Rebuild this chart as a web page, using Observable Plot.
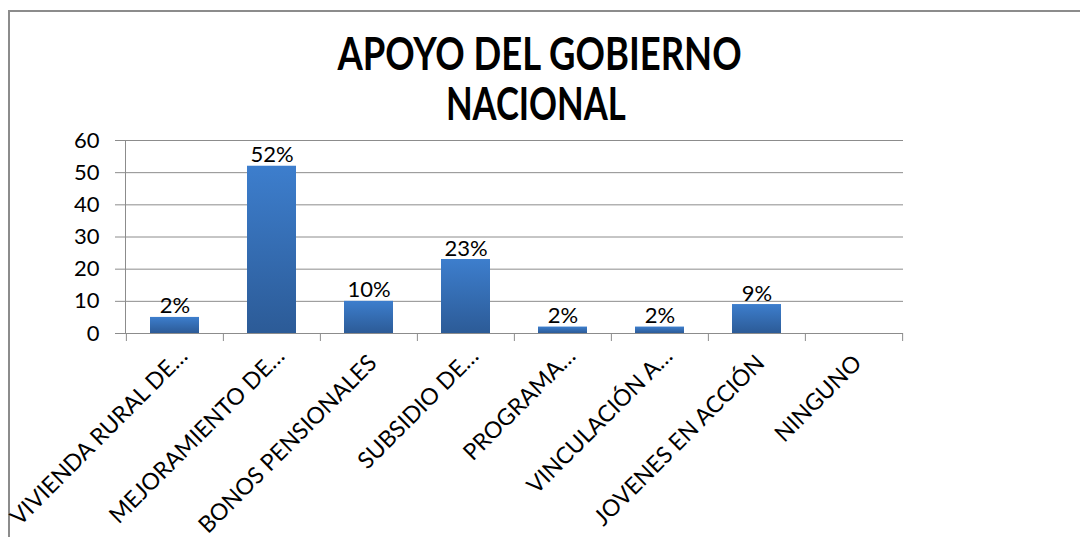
<!DOCTYPE html>
<html><head><meta charset="utf-8">
<script src="https://cdn.jsdelivr.net/npm/d3@7"></script>
<script src="https://cdn.jsdelivr.net/npm/@observablehq/plot@0.6"></script>
<style>
html,body{margin:0;padding:0;background:#fff;}
body{width:1080px;height:537px;overflow:hidden;position:relative;font-family:Lato,"Open Sans",sans-serif;}
#frame{position:absolute;left:8px;top:10px;width:1200px;height:700px;border-left:2px solid #8c8c8c;border-top:2px solid #8c8c8c;box-sizing:border-box}
#title{position:absolute;left:0;top:28px;width:1080px;text-align:center;font-weight:700;font-size:45px;line-height:50px;color:#000}
#title span{display:inline-block;transform-origin:center;}
#t1{transform:scaleX(0.81);}
#t2{transform:scaleX(0.77);margin-right:8px;}
#chart{position:absolute;left:0;top:130px;}
</style></head>
<body>
<div id="frame"></div>
<div id="title"><span id="t1">APOYO DEL GOBIERNO</span><br><span id="t2">NACIONAL</span></div>
<div id="chart"></div>
<script>
const categories = ["VIVIENDA RURAL DE…","MEJORAMIENTO DE…","BONOS PENSIONALES","SUBSIDIO DE…","PROGRAMA…","VINCULACIÓN A…","JOVENES EN ACCIÓN","NINGUNO"];
const values = [5, 52, 10, 23, 2, 2, 9, 0];
const valueLabels = ["2%","52%","10%","23%","2%","2%","9%",""];
const yTicks = [0,10,20,30,40,50,60];

const W=1080, H=407, ML=125, MR=177, MT=10, MB=204;
const step = (W-ML-MR)/categories.length;
const axisColor = "#8c8c8c";
const data = categories.map((c,i)=>({c, v: values[i], label: valueLabels[i]}));
const truncated = d => d.endsWith("…");

const chart = Plot.plot({
  width: W, height: H, marginLeft: ML, marginRight: MR, marginTop: MT, marginBottom: MB,
  style: {fontFamily: "Lato, 'Open Sans', sans-serif", background: "transparent", overflow: "visible", color: "#000"},
  x: {domain: categories, paddingInner: 0.5, paddingOuter: 0.25, axis: null},
  y: {domain: [0,60], axis: null},
  marks: [
    Plot.gridY(yTicks, {stroke: axisColor, strokeOpacity: 1}),
    Plot.axisY(yTicks, {tickSize: 10, tickPadding: 16, stroke: axisColor, fill: "#000", fontSize: 22, label: null}),
    Plot.barY(data, {x: "c", y: "v", fill: "url(#barGrad)", filter: d => d.v > 0}),
    Plot.ruleY([0], {stroke: axisColor}),
    Plot.frame({anchor: "left", stroke: axisColor}),
    Plot.axisX(categories, {tickSize: 8, fill: "none", dx: -step/2, stroke: axisColor, label: null}),
    Plot.axisX([categories[categories.length-1]], {tickSize: 8, fill: "none", dx: step/2, stroke: axisColor, label: null}),
    Plot.text(data, {x: "c", y: "v", text: "label", lineAnchor: "bottom", dy: -4, fontSize: 22, fill: "#000"}),
    Plot.text(categories.filter(truncated), {x: d => d, y: () => 0, text: d => d, rotate: -45, textAnchor: "end", lineAnchor: "bottom",
      dx: 14, dy: 24, fontSize: 23, fill: "#000"}),
    Plot.text(categories.filter(d => !truncated(d)), {x: d => d, y: () => 0, text: d => d, rotate: -45, textAnchor: "end", lineAnchor: "bottom",
      dx: 9, dy: 31, fontSize: 23, fill: "#000"})
  ]
});

const ns = "http://www.w3.org/2000/svg";
const defs = document.createElementNS(ns, "defs");
defs.innerHTML = `<linearGradient id="barGrad" x1="0" y1="0" x2="0" y2="1">
  <stop offset="0" stop-color="#3d7ecd"/><stop offset="1" stop-color="#2c5b97"/></linearGradient>`;
chart.insertBefore(defs, chart.firstChild);
document.getElementById("chart").appendChild(chart);
</script>
</body></html>
